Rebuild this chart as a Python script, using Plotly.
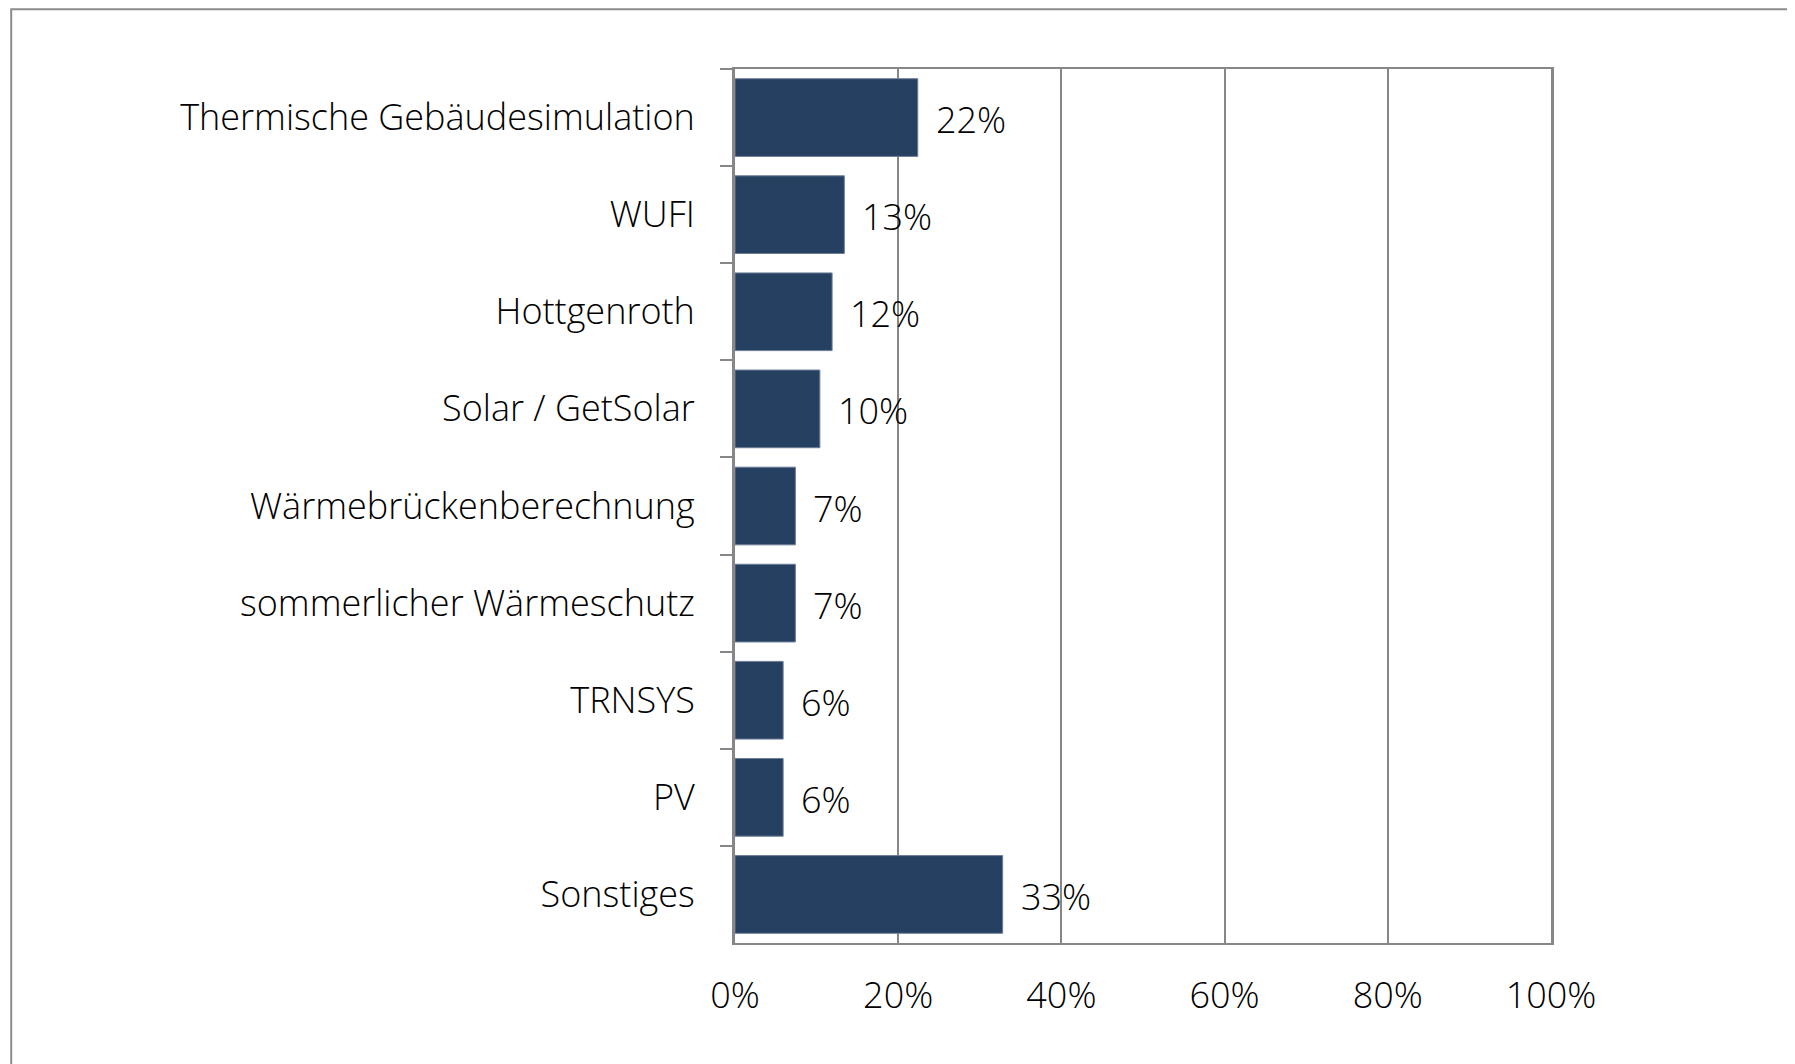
import plotly.graph_objects as go

# Software usage shares
categories = [
    'Thermische Gebäudesimulation',
    'WUFI',
    'Hottgenroth',
    'Solar / GetSolar',
    'Wärmebrückenberechnung',
    'sommerlicher Wärmeschutz',
    'TRNSYS',
    'PV',
    'Sonstiges',
]
shares = [0.224, 0.134, 0.119, 0.104, 0.074, 0.074, 0.059, 0.059, 0.328]
labels = ['22%', '13%', '12%', '10%', '7%', '7%', '6%', '6%', '33%']

x_ticks = [0, 0.2, 0.4, 0.6, 0.8, 1.0]
x_ticktext = ['0%', '20%', '40%', '60%', '80%', '100%']

FONT = 'Open Sans'
GRAY = '#878787'
BAR = '#264061'
TXT = dict(family=FONT, size=36, color='#000000', weight=300)

fig = go.Figure()
fig.add_trace(go.Bar(
    x=shares,
    y=categories,
    orientation='h',
    marker=dict(color=BAR, line=dict(color='#6c7d96', width=1)),
    hoverinfo='skip',
))

# value labels right of the bars
for cat, val, lab in zip(categories, shares, labels):
    fig.add_annotation(
        x=val, y=cat, text=lab, showarrow=False,
        xanchor='left', xshift=16, yshift=-2,
        font=TXT,
    )

fig.update_layout(
    width=1795,
    height=1064,
    margin=dict(l=727, r=252, t=61, b=129),
    paper_bgcolor='white',
    plot_bgcolor='white',
    showlegend=False,
    bargap=0.2,
    font=TXT,
    xaxis=dict(
        range=[0, 1],
        tickvals=x_ticks,
        ticktext=x_ticktext,
        showgrid=True,
        gridcolor=GRAY,
        gridwidth=2,
        zeroline=False,
        showline=True,
        linecolor=GRAY,
        linewidth=2,
        mirror=True,
        ticks='',
        ticklabelstandoff=20,
        tickfont=TXT,
    ),
    yaxis=dict(
        categoryorder='array',
        categoryarray=categories,
        autorange='reversed',
        showgrid=False,
        showline=True,
        linecolor=GRAY,
        linewidth=3,
        mirror=True,
        ticks='outside',
        tickson='boundaries',
        ticklen=12,
        tickwidth=2,
        tickcolor=GRAY,
        ticklabelstandoff=30,
        tickfont=TXT,
    ),
    # outer chart frame (runs off the right and bottom edges)
    shapes=[dict(
        type='rect', xref='paper', yref='paper',
        x0=-0.887, x1=1.4, y0=-0.2, y1=1.0685,
        line=dict(color='#8c8c8c', width=2),
        fillcolor='rgba(0,0,0,0)', layer='below',
    )],
)

fig.write_html('out.html')
